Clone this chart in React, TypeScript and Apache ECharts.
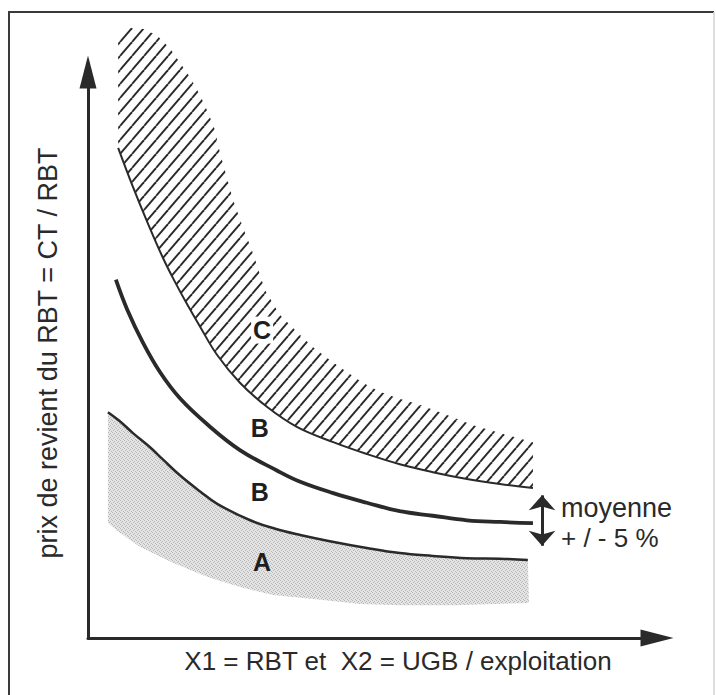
import { useEffect, useRef } from 'react';
import * as echarts from 'echarts';

// Upper edge of the hatched zone (C)
const hatchTopX = [5.3, 6.0, 7.4, 9.7, 12.1, 14.4, 16.2, 17.9, 19.7, 20.9, 22.3, 23.2, 24.4, 25.5, 27.2, 29.0, 31.1, 33.7, 36.7, 39.5, 42.5, 45.5, 48.3, 51.3, 54.3, 58.3, 63.1, 67.7, 72.4, 78.2];
const hatchTopY = [105.7, 107.2, 107.8, 107.6, 106.5, 104.2, 101.6, 99.1, 95.9, 93.3, 89.8, 85.7, 81.4, 77.4, 72.6, 68.0, 61.5, 57.1, 54.1, 51.4, 49.1, 47.0, 45.1, 43.5, 42.4, 41.2, 39.4, 37.6, 36.2, 34.6];
// Upper curve (lower edge of C)
const curveCX = [5.3, 7.9, 10.5, 13.2, 15.4, 17.4, 19.7, 22.7, 26.7, 31.5, 36.7, 43.1, 49.0, 54.8, 60.6, 66.6, 72.4, 78.2];
const curveCY = [86.6, 79.7, 73.3, 67.1, 62.7, 59.0, 55.0, 50.0, 45.1, 40.8, 37.3, 34.6, 32.5, 30.7, 29.3, 28.1, 27.2, 26.5];
// Middle curve (moyenne)
const curveBX = [4.9, 6.9, 9.7, 12.7, 16.2, 20.9, 26.7, 33.2, 37.3, 43.1, 49.0, 54.8, 60.6, 66.6, 72.4, 78.2];
const curveBY = [63.3, 58.0, 52.1, 46.9, 42.3, 37.8, 33.2, 29.6, 27.6, 25.6, 23.9, 22.4, 21.6, 20.8, 20.5, 20.3];
// Lower curve (upper edge of A)
const curveAX = [3.5, 5.6, 7.9, 10.9, 13.2, 16.2, 19.7, 22.7, 28.5, 32.9, 37.3, 42.5, 49.0, 54.8, 60.6, 66.6, 72.4, 77.3];
const curveAY = [39.9, 38.3, 36.2, 33.7, 31.5, 28.7, 25.9, 23.7, 20.8, 19.3, 18.2, 17.1, 15.9, 15.0, 14.5, 14.1, 14.0, 13.8];
// Lower edge of the grey zone (A), right to left
const grayBottomX = [77.5, 64.7, 54.8, 47.8, 41.3, 32.5, 26.7, 20.9, 14.9, 9.1, 5.6, 3.5];
const grayBottomY = [6.2, 5.8, 5.8, 6.0, 6.7, 7.6, 9.0, 10.8, 13.3, 16.1, 18.6, 20.3];
// Zone labels
const labelText = ['C', 'B', 'B', 'A'];
const labelX = [30.6, 30.2, 30.2, 30.6];
const labelY = [54.4, 37.1, 25.8, 13.4];
// Double arrow "moyenne +/- 5 %"
const arrowX = 79.8;
const arrowY = [25.2, 16.3];

const yTitle = 'prix de revient du RBT = CT / RBT';
const xTitle = 'X1 = RBT et  X2 = UGB / exploitation';
const noteLines = ['moyenne', '+ / - 5 %'];

function makeHatch() {
  const w = 12, h = 14;
  const c = document.createElement('canvas');
  c.width = w; c.height = h;
  const ctx = c.getContext('2d')!;
  ctx.strokeStyle = '#2a2a2a';
  ctx.lineWidth = 1.9;
  for (const dx of [-w, 0, w]) {
    ctx.beginPath();
    ctx.moveTo(dx, h);
    ctx.lineTo(dx + w, 0);
    ctx.stroke();
  }
  return { image: c, repeat: 'repeat', imageWidth: w, imageHeight: h };
}

function makeStipple() {
  const c = document.createElement('canvas');
  c.width = 4; c.height = 4;
  const ctx = c.getContext('2d')!;
  ctx.fillStyle = '#e4e4e4';
  ctx.fillRect(0, 0, 4, 4);
  ctx.fillStyle = '#b6b6b6';
  ctx.fillRect(0, 0, 1, 1);
  ctx.fillRect(2, 1, 1, 1);
  ctx.fillRect(1, 2, 1, 1);
  ctx.fillRect(3, 3, 1, 1);
  return { image: c, repeat: 'repeat', imageWidth: 4, imageHeight: 4 };
}

export default function App() {
  const ref = useRef<HTMLDivElement>(null);
  useEffect(() => {
    const el = ref.current!;
    const chart = echarts.init(el, null, { renderer: 'svg' });
    const ink = '#2a2a2a';
    const font = '"Liberation Sans", Arial, Helvetica, sans-serif';
    const hatch = makeHatch();
    const stipple = makeStipple();

    const hatchXs = hatchTopX.concat(curveCX.slice().reverse());
    const hatchYs = hatchTopY.concat(curveCY.slice().reverse());
    const grayXs = curveAX.concat(grayBottomX);
    const grayYs = curveAY.concat(grayBottomY);

    const polygonSeries = (name: string, xs: number[], ys: number[], fill: any) => ({
      type: 'custom',
      name,
      z: 1,
      silent: true,
      data: [[xs[0], ys[0]]],
      renderItem: (_p: any, api: any) => ({
        type: 'polygon',
        shape: { points: xs.map((x, i) => api.coord([x, ys[i]])) },
        style: { fill, stroke: null },
      }),
    });

    const lineSeries = (name: string, xs: number[], ys: number[], width: number) => ({
      type: 'line',
      name,
      z: 3,
      smooth: 0.4,
      symbol: 'none',
      silent: true,
      data: xs.map((x, i) => [x, ys[i]]),
      lineStyle: { color: ink, width },
    });

    const axisBase = {
      type: 'value',
      min: 0,
      max: 100,
      axisTick: { show: false },
      axisLabel: { show: false },
      splitLine: { show: false },
      axisLine: {
        show: true,
        onZero: false,
        symbol: ['none', 'triangle'],
        symbolSize: [17, 33],
        lineStyle: { color: ink, width: 3 },
      },
    };

    const option: any = {
      animation: false,
      backgroundColor: '#ffffff',
      grid: { left: 88, top: 72, width: 569, height: 566, containLabel: false, outerBoundsMode: 'none' },
      xAxis: axisBase,
      yAxis: axisBase,
      graphic: [
        { type: 'polyline', silent: true, shape: { points: [[9, 700], [9, 12], [714, 12]] }, style: { stroke: '#3a3a3a', lineWidth: 2, fill: null } },
        { type: 'line', silent: true, shape: { x1: 714, y1: 12, x2: 714, y2: 700 }, style: { stroke: '#d4d4d4', lineWidth: 1.5 } },
        { type: 'text', x: 48, y: 353, rotation: Math.PI / 2, style: { text: yTitle, fontSize: 27, fontFamily: font, fill: ink, align: 'center', verticalAlign: 'middle' } },
        { type: 'text', x: 398, y: 661, style: { text: xTitle, fontSize: 26, fontFamily: font, fill: ink, align: 'center', verticalAlign: 'middle' } },
        { type: 'text', x: 561, y: 508, style: { text: noteLines[0], fontSize: 27, fontFamily: font, fill: ink, align: 'left', verticalAlign: 'middle' } },
        { type: 'text', x: 561, y: 538, style: { text: noteLines[1], fontSize: 26, fontFamily: font, fill: ink, align: 'left', verticalAlign: 'middle' } },
      ],
      series: [
        polygonSeries('zone C', hatchXs, hatchYs, hatch),
        polygonSeries('zone A', grayXs, grayYs, stipple),
        lineSeries('courbe C', curveCX, curveCY, 2),
        { ...lineSeries('moyenne', curveBX, curveBY, 3.8),
          markLine: {
            silent: true,
            symbol: ['arrow', 'arrow'],
            symbolSize: [20, 15],
            label: { show: false },
            lineStyle: { type: 'solid', color: ink, width: 3 },
            data: [[{ coord: [arrowX, arrowY[0]] }, { coord: [arrowX, arrowY[1]] }]],
          },
        },
        lineSeries('courbe A', curveAX, curveAY, 2.5),
        {
          type: 'scatter',
          name: 'zones',
          z: 5,
          silent: true,
          symbolSize: 1,
          itemStyle: { color: 'rgba(0,0,0,0)' },
          data: labelX.map((x, i) => ({
            value: [x, labelY[i]],
            label: labelText[i] === 'C' ? { backgroundColor: '#ffffff', padding: [1, 2] } : {},
          })),
          label: {
            show: true,
            position: 'inside',
            formatter: (p: any) => labelText[p.dataIndex],
            fontSize: 25,
            fontWeight: 'bold',
            fontFamily: font,
            color: '#1e1e1e',
            opacity: 1,
          },
        },
      ],
    };
    chart.setOption(option);
    return () => chart.dispose();
  }, []);
  return (
    <div
      ref={ref}
      style={{ position: 'absolute', left: 0, top: 0, width: 716, height: 695, background: '#ffffff' }}
    />
  );
}
